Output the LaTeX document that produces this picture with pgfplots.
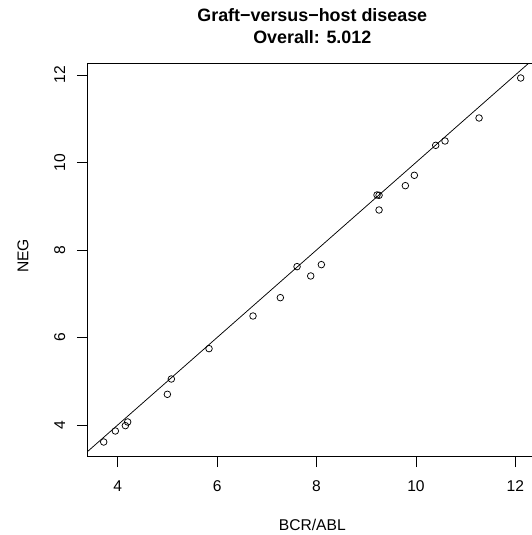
\documentclass[border=0pt]{standalone}
\usepackage{pgfplots}
\pgfplotsset{compat=1.18}
\usepackage{fontspec}
\setmainfont{Liberation Sans}
\begin{document}
\begin{tikzpicture}[x=1pt,y=1pt]
\begin{axis}[
  at={(87.3pt,78.3pt)}, anchor=south west,
  scale only axis, width=449.9pt, height=393.4pt,
  xmin=3.388, xmax=12.44, ymin=3.275, ymax=12.267,
  xtick={4,6,8,10,12}, ytick={4,6,8,10,12},
  tick align=outside, major tick length=10.5pt,
  xtick pos=bottom, ytick pos=left,
  tick style={black, line width=0.8pt},
  axis line style={line width=0.8pt},
  ticklabel style={font=\fontsize{15.6}{18}\selectfont},
  /pgf/number format/assume math mode=true,
  xticklabel style={anchor=base, yshift=-24.5pt},
  yticklabel style={xshift=-11.8pt, rotate=90, anchor=base},
]
\addplot[only marks, mark=o, mark size=3.3pt, mark options={line width=0.75pt, black}] coordinates {
(3.718,3.611) (3.952,3.863) (4.154,3.985) (4.200,4.069) (4.999,4.701)
(5.079,5.051) (5.837,5.745) (6.722,6.491) (7.272,6.910) (7.608,7.619)
(7.883,7.406) (8.097,7.665) (9.217,9.257) (9.258,9.250) (9.258,8.914)
(9.787,9.470) (9.968,9.707) (10.398,10.392) (10.585,10.491) (11.270,11.017)
(12.108,11.931)
};
\addplot[black, line width=0.75pt] coordinates {(3.0,3.0) (13.0,13.0)};
\end{axis}
\node[anchor=base, font=\bfseries\fontsize{17.9}{21}\selectfont] at (312.3,513.5) {Graft−versus−host disease};
\node[anchor=base, font=\bfseries\fontsize{17.9}{21}\selectfont] at (312.3,491.7) {Overall: 5.012};
\node[anchor=base, font=\fontsize{15.6}{18}\selectfont] at (312.3,4.5) {BCR/ABL};
\node[anchor=base, rotate=90, font=\fontsize{15.6}{18}\selectfont] at (28.3,279) {NEG};
\pgfresetboundingbox
\path[use as bounding box] (0,0) rectangle (532,535);
\end{tikzpicture}
\end{document}
